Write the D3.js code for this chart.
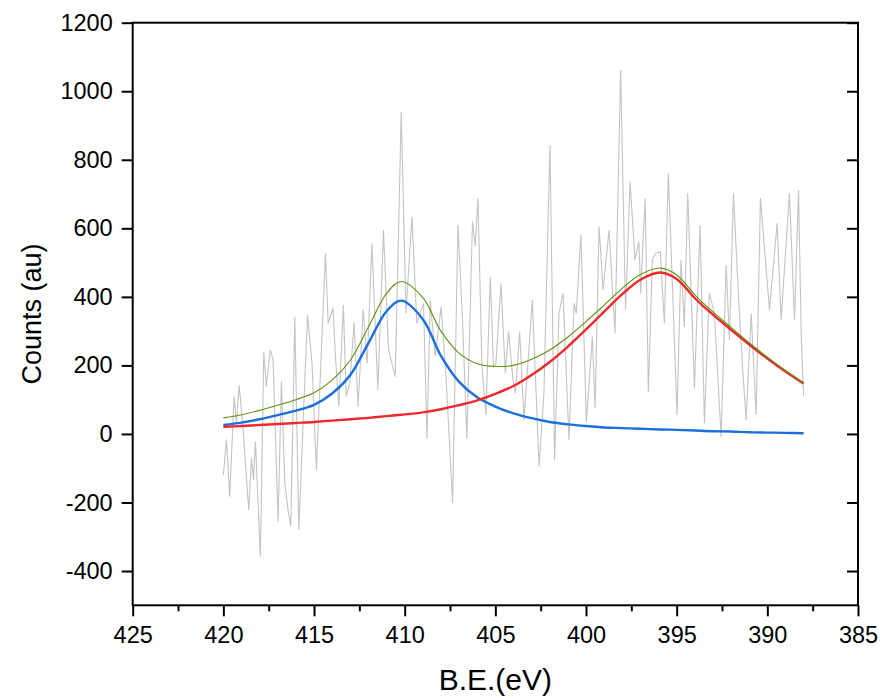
<!DOCTYPE html>
<html>
<head>
<meta charset="utf-8">
<script src="https://cdnjs.cloudflare.com/ajax/libs/d3/7.8.5/d3.min.js"></script>
<style>
	body { margin: 0; background: #fff; }
	svg { font-family: "Liberation Sans", Arial, sans-serif; }
	.axis text { font-size: 23.5px; fill: #000; font-family: "Liberation Sans", Arial, sans-serif; }
	.axisText { fill: #000; }
</style>
</head>
<body>
<script>

// raw spectrum (binding energy in eV, counts)
var dataEV = [420.0, 419.83, 419.65, 419.41, 419.28, 419.13, 418.91, 418.60, 418.45, 418.34,
	418.23, 417.96, 417.77, 417.63, 417.41, 417.26, 416.98, 416.80, 416.61, 416.43,
	416.28, 416.06, 415.84, 415.36, 415.11, 414.87, 414.37, 414.22, 413.95, 413.82,
	413.63, 413.38, 413.23, 413.02, 412.79, 412.57, 412.29, 412.07, 411.81, 411.48,
	411.17, 410.89, 410.52, 410.19, 409.93, 409.60, 409.33, 408.96, 408.77, 408.59,
	408.32, 407.99, 407.73, 407.36, 407.06, 406.81, 406.57, 406.26, 406.11, 405.96,
	405.74, 405.52, 405.28, 405.10, 404.97, 404.69, 404.45, 404.27, 404.03, 403.89,
	403.66, 403.42, 402.96, 402.59, 402.32, 401.99, 401.73, 401.49, 401.27, 400.94,
	400.66, 400.54, 400.28, 399.98, 399.65, 399.50, 399.28, 399.06, 398.73, 398.40,
	398.09, 397.82, 397.57, 397.30, 397.08, 396.99, 396.74, 396.56, 396.34, 396.16,
	395.90, 395.68, 395.46, 395.22, 394.98, 394.76, 394.58, 394.39, 394.02, 393.71,
	393.47, 393.20, 392.92, 392.55, 392.27, 392.09, 391.87, 391.60, 391.36, 391.17,
	390.89, 390.62, 390.38, 389.88, 389.46, 389.24, 388.78, 388.50, 388.28, 388.13,
	388.00];
var dataCounts = [-120, -17, -183, 109, 32, 143, 12, -222, -70, -134,
	-22, -358, 240, 138, 245, 216, -256, 153, -144, -222,
	-270, 342, -280, 347, 206, -105, 527, 323, 367, 226,
	80, 376, 109, 149, 325, 80, 364, 206, 556, 128,
	595, 245, 167, 940, 352, 634, 323, 381, -13, 391,
	226, 371, 177, -202, 610, 333, -13, 620, 547, 688,
	196, 55, 459, 196, 206, 440, 177, 299, 158, 119,
	299, 41, 391, -95, 119, 843, -76, 352, 411, -18,
	381, 352, 581, 36, 284, 75, 605, 420, 595, 294,
	1062, 362, 736, 508, 561, 411, 688, 123, 508, 527,
	532, 323, 761, 411, 55, 508, 313, 702, 133, 610,
	31, 411, 352, -8, 493, 274, 702, 411, 187, 41,
	352, 55, 688, 362, 615, 333, 702, 333, 712, 284,
	110];

// fitted peaks, sampled along the energy axis
var fitEV = [420, 419, 418, 417, 416, 415, 414, 413, 412, 411, 410.2, 409, 408, 407, 406, 405,
	404, 403, 402, 401, 400, 399, 398, 397, 395.9, 395, 394, 393, 392, 391, 390, 389, 388];
var peak1 = [26, 33, 43, 55, 68, 85, 118, 172, 265, 358, 389, 335, 228, 152, 107, 80,
	60, 46, 35, 28, 23, 19, 17, 15, 13, 12, 10, 8, 7, 5, 4, 3, 2];
var peak2 = [21, 23, 26, 29, 32, 35, 39, 43, 47, 52, 56, 63, 72, 84, 98, 117,
	140, 172, 210, 255, 305, 357, 408, 450, 471, 452, 396, 348, 304, 261, 220, 182, 147];
var envelope = [47, 56, 69, 84, 100, 120, 157, 215, 312, 410, 445, 398, 300, 236, 205, 197,
	200, 218, 245, 283, 328, 376, 425, 465, 484, 464, 406, 356, 311, 266, 224, 185, 149];

// tick labels
var xTicks = [425, 420, 415, 410, 405, 400, 395, 390, 385];
var xMinor = [422.5, 417.5, 412.5, 407.5, 402.5, 397.5, 392.5, 387.5];
var yTicks = [-400, -200, 0, 200, 400, 600, 800, 1000, 1200];

// size of svg and plot frame
var w = 880;
var h = 698;
var leftX = 132.7;
var rightX = 858;
var topY = 22.7;
var bottomY = 605.3;

var svg = d3.select("body")
	.append("svg")
	.attr("width", w)
	.attr("height", h);

// scales, energy axis runs backwards
var scaleX = d3.scaleLinear()
	.domain([425, 385])
	.range([leftX, rightX]);
var scaleY = d3.scaleLinear()
	.domain([-500, 1200])
	.range([bottomY, topY]);

// line generators
var rawLine = d3.line()
	.x(function(d) { return scaleX(d[0]); })
	.y(function(d) { return scaleY(d[1]); });
var fitLine = d3.line()
	.curve(d3.curveCatmullRom.alpha(0.5))
	.x(function(d) { return scaleX(d[0]); })
	.y(function(d) { return scaleY(d[1]); });

var raw = dataEV.map(function(e, i) { return [e, dataCounts[i]]; });
svg.append("path")
	.datum(raw)
	.attr("d", rawLine)
	.attr("fill", "none")
	.attr("stroke", "#c4c4c4")
	.attr("stroke-width", 1.1);

// fitted components and envelope
var fits = [
	{ values: peak1, color: "#1a6fdc", width: 2.4 },
	{ values: peak2, color: "#f0282c", width: 2.4 },
	{ values: envelope, color: "#5c9410", width: 1.1 }
];
fits.forEach(function(f) {
	svg.append("path")
		.datum(fitEV.map(function(e, i) { return [e, f.values[i]]; }))
		.attr("d", fitLine)
		.attr("fill", "none")
		.attr("stroke", f.color)
		.attr("stroke-width", f.width);
});

// axes
var xAxis = d3.axisBottom(scaleX)
	.tickValues(xTicks)
	.tickSize(11)
	.tickPadding(10)
	.tickFormat(function(d) { return d; });
var xMinorAxis = d3.axisBottom(scaleX)
	.tickValues(xMinor)
	.tickSize(6)
	.tickFormat("");
var yAxis = d3.axisLeft(scaleY)
	.tickValues(yTicks)
	.tickSize(11)
	.tickPadding(9)
	.tickFormat(function(d) { return d; });
var yRight = d3.axisRight(scaleY)
	.tickValues(yTicks)
	.tickSize(-11)
	.tickFormat("");

svg.append("g")
	.attr("class", "axis")
	.attr("transform", "translate(0," + bottomY + ")")
	.call(xAxis);
svg.append("g")
	.attr("class", "axis")
	.attr("transform", "translate(0," + bottomY + ")")
	.call(xMinorAxis);
svg.append("g")
	.attr("class", "axis")
	.attr("transform", "translate(" + leftX + ",0)")
	.call(yAxis);
svg.append("g")
	.attr("class", "axis")
	.attr("transform", "translate(" + rightX + ",0)")
	.call(yRight);

svg.selectAll(".axis .domain").remove();
svg.selectAll(".axis line")
	.attr("stroke", "#000")
	.attr("stroke-width", 2);

// frame round the plot
svg.append("rect")
	.attr("x", leftX)
	.attr("y", topY)
	.attr("width", rightX - leftX)
	.attr("height", bottomY - topY)
	.attr("fill", "none")
	.attr("stroke", "#000")
	.attr("stroke-width", 2);

// axis titles
svg.append("text")
	.attr("class", "axisText")
	.attr("x", (leftX + rightX) / 2)
	.attr("y", 690)
	.style("font-size", "30px")
	.style("text-anchor", "middle")
	.text("B.E.(eV)");
svg.append("text")
	.attr("class", "axisText")
	.attr("transform", "rotate(-90)")
	.attr("x", -(topY + bottomY) / 2)
	.attr("y", 41)
	.style("font-size", "27px")
	.style("text-anchor", "middle")
	.text("Counts (au)");
</script>
</body>
</html>
